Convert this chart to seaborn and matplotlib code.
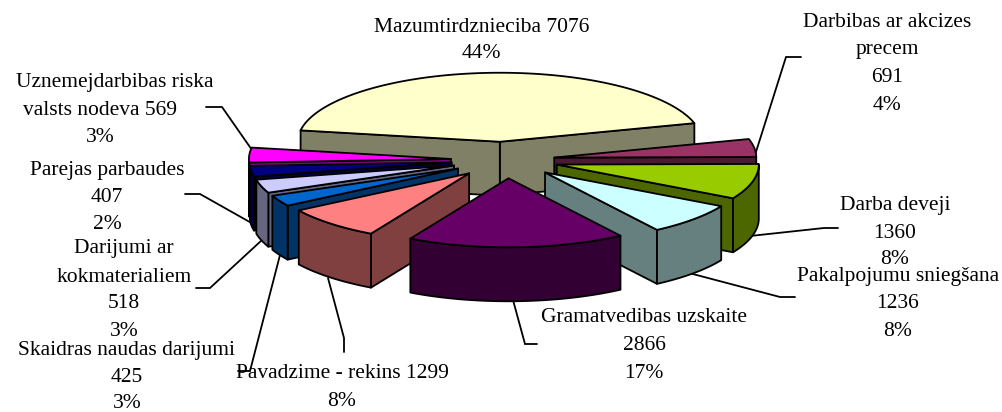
import numpy as np
import pandas as pd
import seaborn as sns
import matplotlib
matplotlib.use("Agg")
import matplotlib.pyplot as plt

categories = ["Mazumtirdznieciba", "Darbibas ar akcizes precem", "Darba deveji",
              "Pakalpojumu sniegšana", "Gramatvedibas uzskaite", "Pavadzime - rekins",
              "Skaidras naudas darijumi", "Darijumi ar kokmaterialiem",
              "Parejas parbaudes", "Uznemejdarbibas riska valsts nodeva"]
values = [7076, 691, 1360, 1236, 2866, 1299, 425, 518, 407, 569]
percents = ["44%", "4%", "8%", "8%", "17%", "8%", "3%", "3%", "2%", "3%"]
top_colors = ["#FFFFCC", "#993366", "#99CC00", "#CCFFFF", "#660066",
              "#FF8080", "#0066CC", "#CCCCFF", "#000080", "#FF00FF"]
side_colors = ["#808066", "#4C1933", "#4C6600", "#668080", "#330033",
               "#804040", "#003366", "#666680", "#000040", "#800080"]
explode_by = [0.265, 0.25, 0.265, 0.265, 0.265, 0.265, 0.265, 0.265, 0.265, 0.265]
draw_order = [0, 1, 2, 3, 9, 8, 7, 6, 5, 4]

label_lines = [
    [("Mazumtirdznieciba 7076", 482, 27), ("44%", 481, 53)],
    [("Darbibas ar akcizes", 887, 22), ("precem", 887, 49), ("691", 887, 77), ("4%", 887, 105)],
    [("Darba deveji", 895, 205), ("1360", 895, 233), ("8%", 895, 260)],
    [("Pakalpojumu sniegšana", 898, 276), ("1236", 898, 304), ("8%", 898, 331)],
    [("Gramatvedibas uzskaite", 644, 318), ("2866", 644, 346), ("17%", 644, 374)],
    [("Pavadzime - rekins 1299", 342, 374), ("8%", 342, 401)],
    [("Skaidras naudas darijumi", 127, 350), ("425", 127, 377), ("3%", 127, 403)],
    [("Darijumi ar", 124, 249), ("kokmaterialiem", 124, 277), ("518", 124, 304), ("3%", 124, 332)],
    [("Parejas parbaudes", 107, 170), ("407", 107, 197), ("2%", 107, 224)],
    [("Uznemejdarbibas riska", 115, 82), ("valsts nodeva 569", 100, 110), ("3%", 100, 137)],
]
leaders = [
    [(801, 57), (786, 57), (755, 155)],
    [(838, 228), (824, 228), (750, 236)],
    [(795, 297), (780, 297), (689, 273)],
    [(537, 344), (525, 344), (513, 300)],
    [(344, 352), (344, 338), (328, 278)],
    [(238, 371), (250, 371), (280, 255)],
    [(196, 288), (210, 288), (262, 240)],
    [(185, 194), (200, 194), (255, 225)],
    [(206, 107), (222, 107), (252, 150)],
]

sns.set_theme(style="white")
plt.rcParams["font.family"] = ["Liberation Serif", "DejaVu Serif"]

df = pd.DataFrame({"category": categories, "value": values, "pull": explode_by,
                   "top": top_colors, "side": side_colors})
df["sweep"] = df["value"] / df["value"].sum() * 360.0
START = 170.5
df["a1"] = START - df["sweep"].cumsum().shift(fill_value=0.0)
df["a0"] = df["a1"] - df["sweep"]

CX, CY, RX, RY, DEPTH, SKEW = 504.5, 160.0, 202.0, 69.0, 54.0, 0.1

fig = plt.figure(figsize=(10.03, 4.12), dpi=100, facecolor="white")
ax = fig.add_axes([0, 0, 1, 1])
ax.set_xlim(0, 1003)
ax.set_ylim(412, 0)
ax.axis("off")


def face(pts, color, z):
    pts = np.asarray(pts)
    ax.fill(pts[:, 0], pts[:, 1], facecolor=color, edgecolor="black",
            linewidth=1.3, joinstyle="round", zorder=z)


z = 1
for i in draw_order:
    row = df.iloc[i]
    mid = np.radians((row["a0"] + row["a1"]) / 2)
    oy = CY - row["pull"] * RY * np.sin(mid)
    ox = CX + row["pull"] * RX * np.cos(mid) + SKEW * (oy - CY)
    t = np.radians(np.linspace(row["a0"], row["a1"], 80))
    ex = ox + RX * np.cos(t)
    ey = oy - RY * np.sin(t)
    down = np.array([0, DEPTH])
    apex = np.array([ox, oy])
    first = np.array([ex[0], ey[0]])
    last = np.array([ex[-1], ey[-1]])
    # an edge faces the viewer when it runs rightward on a
    # counter-clockwise walk round the slice
    for p, q in [(apex, first), (last, apex)]:
        if q[0] > p[0]:
            face([p, q, q + down, p + down], row["side"], z)
            z += 1
    mask = np.sin(t) < 0
    if mask.any():
        rim = np.column_stack([ex[mask], ey[mask]])
        face(np.vstack([rim, (rim + down)[::-1]]), row["side"], z)
        z += 1
    face(np.vstack([[apex], np.column_stack([ex, ey])]), row["top"], z)
    z += 1

for pts in leaders:
    xs, ys = zip(*pts)
    ax.plot(xs, ys, color="black", lw=1.3, zorder=0, solid_joinstyle="miter")
z += 1

for lines in label_lines:
    for text, x, y in lines:
        ax.text(x, y, text, ha="center", va="center", fontsize=15.5,
                color="black", zorder=z)

fig.savefig("out.png", dpi=100, facecolor="white")
